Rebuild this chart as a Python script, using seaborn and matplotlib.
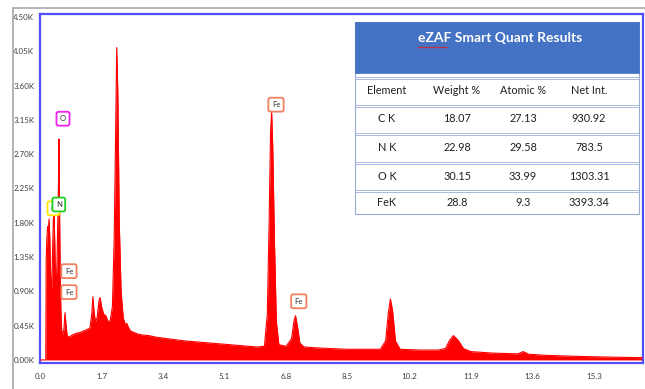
import numpy as np
import pandas as pd
import matplotlib
matplotlib.use("Agg")
import matplotlib.pyplot as plt
import seaborn as sns
from matplotlib.patches import Rectangle
from matplotlib.lines import Line2D

# ---------------- data ----------------
energy_kev = [0.00, 0.16, 0.17, 0.19, 0.21, 0.23, 0.25, 0.27, 0.29, 0.31, 0.33, 0.35, 0.37, 0.39,
              0.41, 0.43, 0.45, 0.47, 0.49, 0.51, 0.525, 0.54, 0.56, 0.58, 0.60, 0.63, 0.66, 0.69,
              0.72, 0.75, 0.80, 0.90, 1.00, 1.10, 1.20, 1.30, 1.38, 1.43, 1.46, 1.49, 1.53, 1.58,
              1.63, 1.66, 1.70, 1.76, 1.82, 1.88, 1.94, 2.00, 2.05, 2.09, 2.12, 2.15, 2.19, 2.24,
              2.30, 2.36, 2.40, 2.44, 2.50, 2.60, 2.70, 2.80, 3.00, 3.20, 3.50, 4.00, 4.50, 5.00,
              5.50, 6.00, 6.20, 6.28, 6.33, 6.37, 6.40, 6.43, 6.48, 6.53, 6.60, 6.80, 6.95, 7.02,
              7.06, 7.11, 7.18, 7.30, 7.60, 8.00, 8.50, 9.00, 9.40, 9.55, 9.62, 9.68, 9.74, 9.82,
              9.95, 10.5, 11.0, 11.2, 11.32, 11.42, 11.55, 11.70, 11.90, 12.5, 13.2, 13.35, 13.5,
              14.0, 15.0, 16.0, 16.66]
counts = [0, 0, 1300, 1600, 1750, 1700, 1850, 1600, 1200, 900, 1000, 1500, 1850, 1900,
          1500, 1000, 1000, 1300, 1800, 2300, 2900, 2000, 1000, 600, 380, 330, 400, 620,
          450, 320, 300, 330, 350, 360, 380, 400, 420, 600, 830, 650, 500, 560,
          780, 820, 700, 600, 580, 500, 520, 700, 1600, 3000, 4100, 3500, 1800, 900,
          550, 460, 480, 430, 380, 360, 340, 330, 320, 300, 280, 250, 230, 210,
          190, 170, 180, 600, 1800, 3000, 3250, 2800, 1500, 500, 200, 180, 280, 520,
          580, 450, 220, 170, 160, 150, 140, 140, 140, 250, 600, 800, 650, 250,
          140, 130, 130, 150, 260, 320, 260, 150, 110, 90, 80, 110, 75,
          60, 45, 35, 30]

y_ticks = [0, 450, 900, 1350, 1800, 2250, 2700, 3150, 3600, 4050, 4500]
y_tick_labels = ["0.00K", "0.45K", "0.90K", "1.35K", "1.80K", "2.25K", "2.70K",
                 "3.15K", "3.60K", "4.05K", "4.50K"]
x_ticks = [0.0, 1.7, 3.4, 5.1, 6.8, 8.5, 10.2, 11.9, 13.6, 15.3]
x_tick_labels = ["0.0", "1.7", "3.4", "5.1", "6.8", "8.5", "10.2", "11.9", "13.6", "15.3"]

peak_labels = ["C", "N", "O", "Fe", "Fe", "Fe", "Fe"]
peak_label_x = [0.37, 0.52, 0.635, 0.80, 0.80, 6.52, 7.15]
peak_label_y = [1990, 2040, 3166, 1165, 890, 3350, 770]
peak_label_colors = ["#FFE800", "#22CC22", "#EE22EE", "#F08060", "#F08060", "#F08060", "#F08060"]

table_title = "eZAF Smart Quant Results"
table_columns = ["Element", "Weight %", "Atomic %", "Net Int."]
table_elements = ["C K", "N K", "O K", "FeK"]
table_weight = ["18.07", "22.98", "30.15", "28.8"]
table_atomic = ["27.13", "29.58", "33.99", "9.3"]
table_netint = ["930.92", "783.5", "1303.31", "3393.34"]

# ---------------- drawing ----------------
sns.set_style("white")
FONT = ["Lato", "DejaVu Sans"]
plt.rcParams["font.family"] = FONT

W, H = 645, 389
fig = plt.figure(figsize=(W / 100, H / 100), dpi=100)
fig.patch.set_facecolor("white")

def fx(x):
    return x / W

def fy(y):
    return 1 - y / H

ax = fig.add_axes([fx(40), fy(363), fx(643) - fx(40), fy(14) - fy(363)])

df = pd.DataFrame({"energy": energy_kev, "counts": counts})
ax.fill_between(df["energy"], 0, df["counts"], color="#FF0000", linewidth=0, zorder=2)
sns.lineplot(data=df, x="energy", y="counts", ax=ax, color="#FF0000", linewidth=0.8,
             zorder=3, legend=False)

ax.set_xlim(0, 16.66)
ax.set_ylim(-40, 4540)
ax.set_xticks(x_ticks)
ax.set_xticklabels(x_tick_labels)
ax.set_yticks(y_ticks)
ax.set_yticklabels(y_tick_labels)
ax.set_xlabel("")
ax.set_ylabel("")
ax.tick_params(axis="both", which="both", length=2.5, width=0.6, color="#808080",
               labelsize=5.8, labelcolor="#404040", pad=1.5, direction="out")
ax.tick_params(axis="x", pad=5)
for side in ["left", "bottom", "right", "top"]:
    ax.spines[side].set_visible(True)
    ax.spines[side].set_color("#4F4FFF")
    ax.spines[side].set_linewidth(1.6)

# element label boxes
for lab, x, y, c in zip(peak_labels, peak_label_x, peak_label_y, peak_label_colors):
    ax.text(x, y, lab, fontsize=5.5, color="#333333", ha="center", va="center", zorder=6,
            bbox=dict(boxstyle="round,pad=0.45,rounding_size=0.25", facecolor="white",
                      edgecolor=c, linewidth=1.3))

# outer gray frame
fig.add_artist(Line2D([fx(13), fx(13)], [fy(8), 0], color="#A8A8A8", linewidth=1.2))
fig.add_artist(Line2D([fx(13), 1], [fy(8), fy(8)], color="#A8A8A8", linewidth=1.2))

# results table
tx0, tx1 = 355, 639
fig.add_artist(Rectangle((fx(tx0), fy(214)), fx(tx1) - fx(tx0), fy(22) - fy(214),
                         transform=fig.transFigure, facecolor="white",
                         edgecolor="#9AAAD0", linewidth=0.8, zorder=5))
fig.add_artist(Rectangle((fx(tx0), fy(73)), fx(tx1) - fx(tx0), fy(22) - fy(73),
                         transform=fig.transFigure, facecolor="#4472C4",
                         edgecolor="#4472C4", linewidth=0.5, zorder=6))
title_txt = fig.text(fx(500), fy(38), table_title, color="white", fontsize=10,
                     fontweight="bold", ha="center", va="center", zorder=7, family=FONT)
# red squiggle under "eZAF"
fig.canvas.draw()
bb = title_txt.get_window_extent()
x_left = bb.x0
x_right = bb.x0 + (bb.x1 - bb.x0) * 4.3 / 24
sq_x = np.linspace(x_left, x_right, 24) / W
sq_y = fy(47.5) + np.array([0.0012 if i % 2 else -0.0012 for i in range(len(sq_x))])
fig.add_artist(Line2D(sq_x, sq_y, color="#E02020", linewidth=0.6, zorder=8))

for ysep in [77, 105, 133, 162, 190]:
    for dy in (0, 2.2):
        fig.add_artist(Line2D([fx(tx0), fx(tx1)], [fy(ysep + dy), fy(ysep + dy)],
                              color="#A9B8DC", linewidth=0.7, zorder=7))

col_x = [387, 457, 523, 589]
row_y = [91, 119, 147, 176, 202]
rows = [table_columns] + [list(r) for r in zip(table_elements, table_weight,
                                                 table_atomic, table_netint)]
for ry, row in zip(row_y, rows):
    for cx, val in zip(col_x, row):
        fig.text(fx(cx), fy(ry), val, color="#202020", fontsize=7.8, ha="center",
                 va="center", zorder=8, family=FONT)

fig.savefig("out.png", dpi=100)
